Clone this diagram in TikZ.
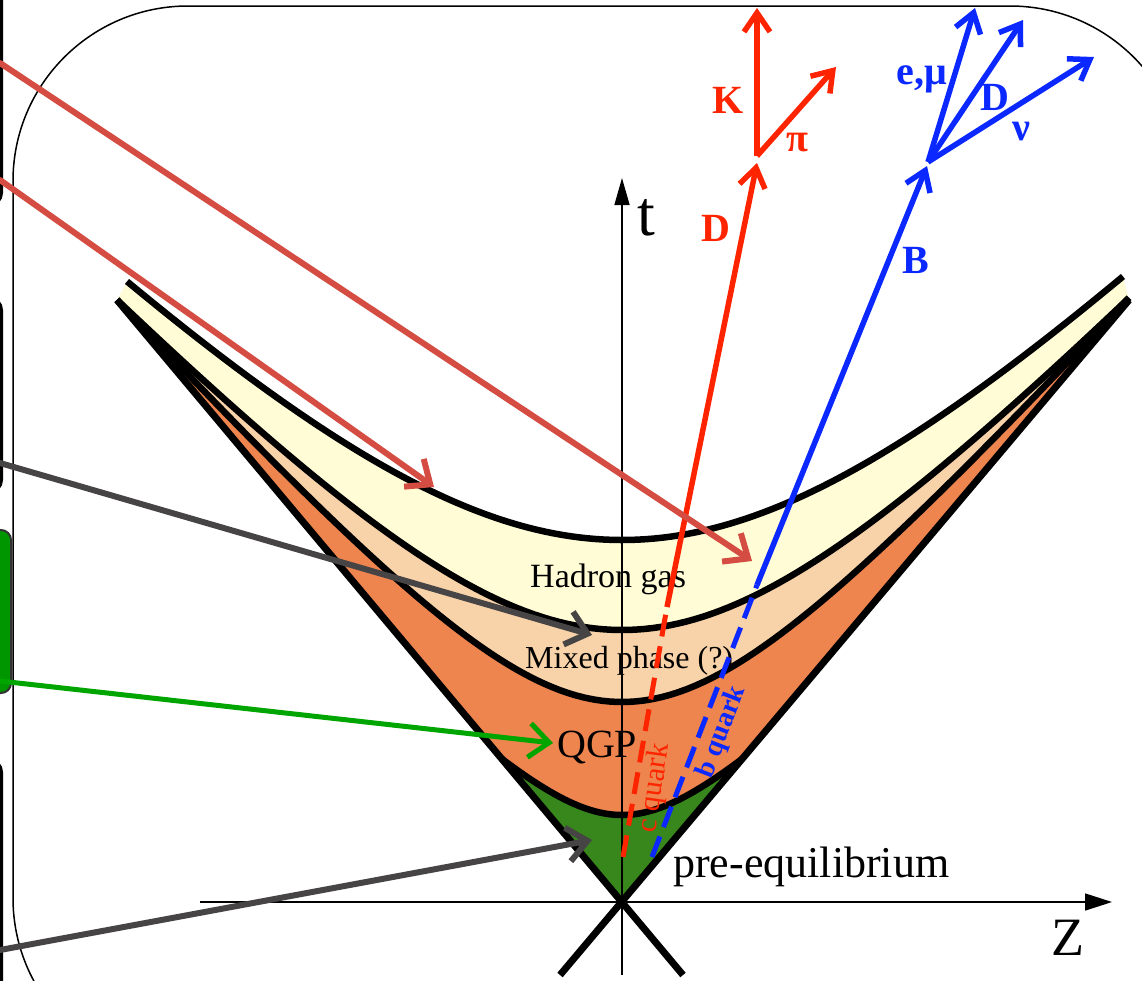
\documentclass[tikz,border=0pt]{standalone}
\usepackage{fontspec}
\setmainfont{Liberation Serif}
\usetikzlibrary{arrows.meta}
\definecolor{ptrRed}{RGB}{212,76,66}
\definecolor{ptrGray}{RGB}{70,68,68}
\definecolor{ptrGreen}{RGB}{0,165,0}
\definecolor{pRed}{RGB}{255,36,0}
\definecolor{pBlue}{RGB}{10,40,255}
\definecolor{hadY}{RGB}{255,252,214}
\definecolor{mixP}{RGB}{248,210,168}
\definecolor{qgpO}{RGB}{238,132,78}
\definecolor{preG}{RGB}{56,135,28}
\definecolor{boxG}{RGB}{0,150,0}
\tikzset{
  sidebox/.style={line width=3pt, rounded corners=12pt},
  greenbox/.style={line width=2pt, fill=boxG, draw=black!80, rounded corners=10pt},
  frame/.style={line width=1.5pt, rounded corners=175pt},
  curve/.style={line width=6.5pt, black, line join=round},
  cone/.style={line width=7pt, black},
  axis/.style={line width=1.6pt, black},
  ptr/.style={line width=6pt, line cap=round, -{Straight Barb[length=20pt,width=34pt]}},
  part/.style={line width=5.5pt, -{Straight Barb[length=19pt,width=26pt]}},
  quarkline/.style={line width=5pt, dash pattern=on 22pt off 10pt},
  lbl/.style={inner sep=0pt, font=\fontsize{40}{44}\selectfont\bfseries},
  region/.style={inner sep=0pt, anchor=base west},
}
\begin{document}
\begin{tikzpicture}[x=1pt,y=-1pt]
\useasboundingbox (0,0) rectangle (1142,980);
\clip (0,0) rectangle (1142,980);
% side boxes (cut off at left edge)
\draw[sidebox] (-100,-50) rectangle (1.5,205);
\draw[sidebox] (-100,298) rectangle (1.5,492);
\draw[greenbox] (-100,530) rectangle (11,693);
\draw[sidebox] (-100,760) rectangle (1.5,1100);
% frame
\draw[frame] (13,6) rectangle (1185,1073);
% curves
\def\curveT{plot[domain=-4.95:5.01,samples=120] ({622+100*\x},{902-100*sqrt(13.1044+\x*\x/0.964324)})}
\def\curveB{plot[domain=-5.05:5.07,samples=120] ({622+100*\x},{902-100*sqrt(7.3984+\x*\x/0.8836)})}
\def\curveC{plot[domain=-5.05:5.07,samples=120] ({622+100*\x},{902-100*sqrt(4.0+\x*\x/0.790321)})}
\def\curveD{plot[domain=-2.5:2.5,samples=100] ({622+100*\x},{902-100*sqrt(0.7569+\x*\x/1.117)})}
\coordinate (coneL) at (117,300);
\coordinate (coneR) at (1129,300);
\coordinate (apex) at (622,902);
\coordinate (coneLb) at (683,975);
\coordinate (coneRb) at (560,975);
\fill[hadY] \curveT -- (coneR) -- (apex) -- (coneL) -- cycle;
\begin{scope}
  \clip (coneL) -- (apex) -- (coneR) -- cycle;
  \fill[mixP] \curveB -- (1142,1000) -- (0,1000) -- cycle;
  \fill[qgpO] \curveC -- (1142,1000) -- (0,1000) -- cycle;
  \fill[preG] \curveD -- (1142,1000) -- (0,1000) -- cycle;
\end{scope}
% axes
\coordinate (tbot) at (622,975);
\coordinate (ttop) at (622,178);
\coordinate (zl) at (200,902);
\coordinate (zr) at (1112,902);
\draw[axis, -{Triangle[length=27pt,width=15pt]}] (tbot) -- (ttop);
\draw[axis, -{Triangle[length=27pt,width=17pt]}] (zl) -- (zr);
% phase boundaries
\draw[curve] \curveT;
\draw[curve] \curveB;
\draw[curve] \curveC;
\begin{scope}
  \clip (coneL) -- (apex) -- (coneR) -- cycle;
  \draw[curve] \curveD;
\end{scope}
\draw[cone] (coneL) -- (coneLb);
\draw[cone] (coneR) -- (coneRb);
% axis labels
\node[inner sep=0pt, font=\fontsize{64}{70}\selectfont] (tlab) at (646,218) {t};
\node[inner sep=0pt, font=\fontsize{54}{60}\selectfont] (zlab) at (1068,938) {Z};
% region labels
\node[region, font=\fontsize{34}{40}\selectfont] (hg) at (530,587) {Hadron gas};
\node[region, font=\fontsize{32}{38}\selectfont] (mp) at (525,668) {Mixed phase (?)};
\node[region, font=\fontsize{40}{46}\selectfont] (qgp) at (557,757) {QGP};
\node[region, font=\fontsize{44}{50}\selectfont] (pre) at (673,877) {pre-equilibrium};
% charm
\coordinate (cq0) at (623,857);
\coordinate (cq1) at (667,607);
\coordinate (Dtip) at (757,163);
\coordinate (Dv) at (757,156);
\coordinate (Ktip) at (757,8);
\coordinate (pitip) at (836,67);
\draw[quarkline, pRed] (cq0) -- (cq1);
\draw[part, pRed] (cq1) -- (Dtip);
\draw[part, pRed] (Dv) -- (Ktip);
\draw[part, pRed] (Dv) -- (pitip);
\node[inner sep=0pt, text=pRed, rotate=82, font=\fontsize{30}{34}\selectfont] (cql) at (655,788) {c quark};
\node[lbl, text=pRed] (Dl) at (716,228) {D};
\node[lbl, text=pRed] (Kl) at (728,100) {K};
\node[lbl, text=pRed] (pil) at (797,143) {π};
% beauty
\coordinate (bq0) at (652,857);
\coordinate (bq1) at (757,585);
\coordinate (Btip) at (927,166);
\coordinate (Bv) at (928,162);
\coordinate (etip) at (975,8);
\coordinate (D2tip) at (1023,20);
\coordinate (nutip) at (1094,57);
\draw[quarkline, pBlue] (bq0) -- (bq1);
\draw[part, pBlue] (bq1) -- (Btip);
\draw[part, pBlue] (Bv) -- (etip);
\draw[part, pBlue] (Bv) -- (D2tip);
\draw[part, pBlue] (Bv) -- (nutip);
\node[inner sep=0pt, text=pBlue, rotate=69, font=\fontsize{28}{32}\selectfont\bfseries] (bql) at (722,732) {b quark};
\node[lbl, text=pBlue] (Bl) at (916,260) {B};
\node[lbl, text=pBlue] (el) at (922,79) {e,μ};
\node[lbl, text=pBlue] (D2l) at (995,97) {D};
\node[lbl, text=pBlue] (nul) at (1021,132) {ν};
% pointer arrows from the side boxes
\coordinate (pA0) at (0,63);
\coordinate (pA1) at (752,561);
\coordinate (pB0) at (0,180);
\coordinate (pB1) at (434,487);
\coordinate (pC0) at (0,463);
\coordinate (pC1) at (592,635);
\coordinate (pD0) at (0,681);
\coordinate (pD1) at (553,743);
\coordinate (pE0) at (0,950);
\coordinate (pE1) at (592,840);
\draw[ptr, ptrRed] (pA0) -- (pA1);
\draw[ptr, ptrRed] (pB0) -- (pB1);
\draw[ptr, ptrGray] (pC0) -- (pC1);
\draw[ptr, ptrGreen, line width=5pt] (pD0) -- (pD1);
\draw[ptr, ptrGray] (pE0) -- (pE1);
\end{tikzpicture}
\end{document}
